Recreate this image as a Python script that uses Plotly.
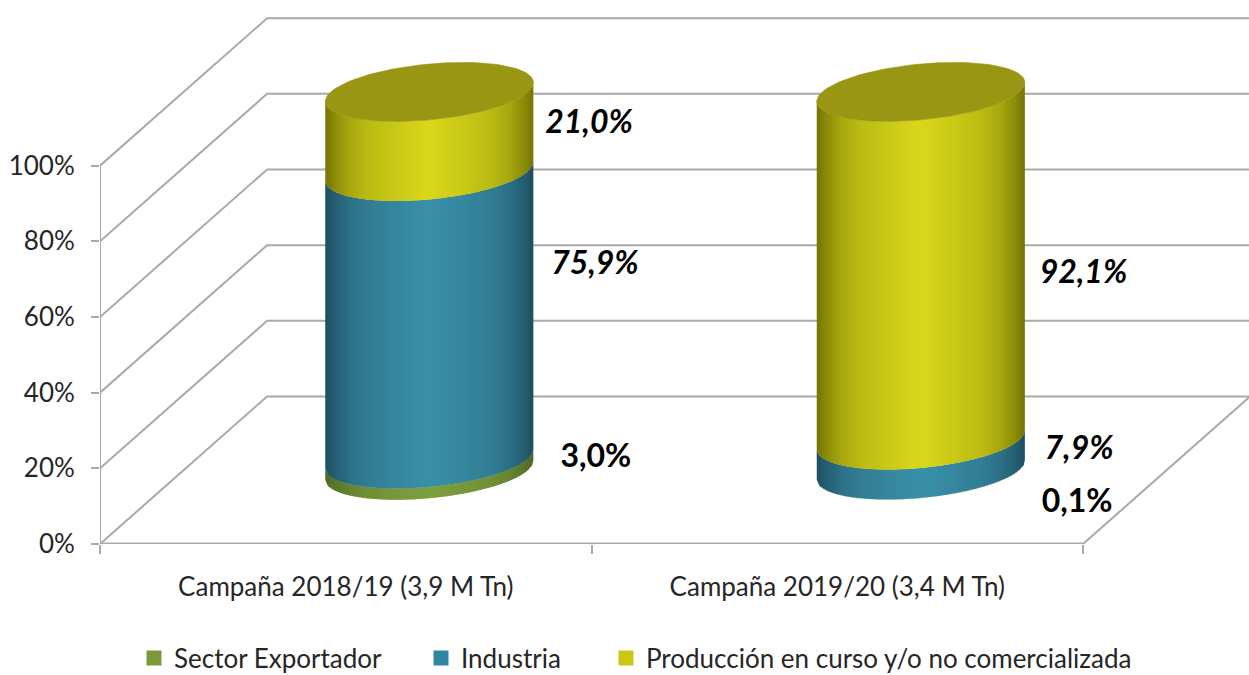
import numpy as np
import plotly.graph_objects as go

# ---- data ----
categories = ["Campaña 2018/19 (3,9 M Tn)", "Campaña 2019/20 (3,4 M Tn)"]
sector_exportador = [3.0, 0.1]
industria = [75.9, 7.9]
produccion = [21.0, 92.1]
series_names = ["Sector Exportador", "Industria", "Producción en curso y/o no comercializada"]
y_ticks = [0, 20, 40, 60, 80, 100]
y_tick_labels = ["0%", "20%", "40%", "60%", "80%", "100%"]

# ---- styles / layout ----
FONT = "Lato"
GRID = "#a9a9a9"
TICK_COL = "#262626"
PEAK = {"g": "#7fa03f", "b": "#3a90a9", "y": "#d8d81b"}
EDGE = {"g": "#4c6620", "b": "#1d4c5e", "y": "#6f6f02"}
LEG = ["#7a9a3a", "#2f87a1", "#c9c914"]
TOP_COL = "#989612"
DEPTH_X, DEPTH_Y = 0.340, 39.0      # oblique wall offset, axis units
RX, REL_DEPTH = 0.2005, 0.2         # cylinder radius, axis units / depth fraction
X_MAX, Y_MAX = 1149 / 491.5, 544 / 3.783
N_STRIPS = 70

series = [sector_exportador, industria, produccion]
keys = ["g", "b", "y"]


def hex2rgb(h):
    return np.array([int(h[i:i + 2], 16) for i in (1, 3, 5)], float)


def shade(key, u):
    f = np.interp(abs(u), [0, .2, .6, .78, .92, 1], [1, .92, .72, .52, .25, .05])
    c = hex2rgb(EDGE[key]) + (hex2rgb(PEAK[key]) - hex2rgb(EDGE[key])) * f
    return "rgb(%d,%d,%d)" % tuple(c)


fig = go.Figure()

# walls and floor
for v in y_ticks:
    fig.add_trace(go.Scatter(x=[0, DEPTH_X, X_MAX], y=[v, v + DEPTH_Y, v + DEPTH_Y], mode="lines",
                             line=dict(color=GRID, width=2), hoverinfo="skip", showlegend=False))
fig.add_trace(go.Scatter(x=[2, 2 + DEPTH_X], y=[0, DEPTH_Y], mode="lines",
                         line=dict(color=GRID, width=2), hoverinfo="skip", showlegend=False))
fig.add_trace(go.Scatter(x=[0, 0], y=[0, 100], mode="lines",
                         line=dict(color=GRID, width=2), hoverinfo="skip", showlegend=False))
fig.add_trace(go.Scatter(x=[0, 2], y=[0, 0], mode="lines",
                         line=dict(color=GRID, width=3), hoverinfo="skip", showlegend=False))

# cylinders (oblique projection of a circle)
ax = DEPTH_X * REL_DEPTH
ay = DEPTH_Y * REL_DEPTH
t0 = np.arctan2(ax, RX)
R = np.hypot(RX, ax)


def arc(xs):
    return ay * np.sin(t0 - np.arccos(np.clip(xs / R, -1, 1)))


for i, cat in enumerate(categories):
    cx = i + 0.5 + DEPTH_X / 2
    total = sum(s[i] for s in series)
    base = DEPTH_Y / 2
    edges = np.linspace(-R, R, N_STRIPS + 1)
    step = edges[1] - edges[0]
    for s, key in zip(series, keys):
        h = s[i] / total * 100
        for a, b in zip(edges[:-1], edges[1:]):
            # each strip runs under the next one, so no seam shows between them
            xs = np.linspace(a, min(b + step * 0.6, R), 3)
            low = base + arc(xs)
            col = shade(key, (a + b) / 2 / R)
            fig.add_trace(go.Scatter(
                x=np.r_[cx + xs, cx + xs[::-1]], y=np.r_[low, (low + h)[::-1]],
                mode="lines", fill="toself", fillcolor=col, line=dict(color=col, width=0),
                hoverinfo="skip", showlegend=False))
        base += h
    tt = np.linspace(0, 2 * np.pi, 120)
    fig.add_trace(go.Scatter(
        x=cx + RX * np.cos(tt) + ax * np.sin(tt), y=base + ay * np.sin(tt),
        mode="lines", fill="toself", fillcolor=TOP_COL, line=dict(color=TOP_COL, width=0.6),
        hoverinfo="skip", showlegend=False))

# data labels
lab_dx = [[.339, .337, .325], [.318, .322, .331]]
lab_dy = [[1.6, 12.9, 1.9], [-8.85, 0.96, -2.3]]
lx, ly, lt = [], [], []
for i in range(2):
    total = sum(s[i] for s in series)
    base = DEPTH_Y / 2
    for j, s in enumerate(series):
        h = s[i] / total * 100
        lx.append(i + 0.5 + DEPTH_X / 2 + lab_dx[i][j])
        ly.append(base + h / 2 + lab_dy[i][j])
        txt = f"{s[i]:.1f}%".replace(".", ",")
        lt.append(f"<b>{txt}</b>" if j == 0 else f"<b><i>{txt}</i></b>")
        base += h
fig.add_trace(go.Scatter(x=lx, y=ly, text=lt, mode="text", textposition="middle center",
                         textfont=dict(family=FONT, size=32, color="black"),
                         hoverinfo="skip", showlegend=False))

# legend, one box per entry so that each sits where it does in the reference
leg_ids = ["legend", "legend2", "legend3"]
for name, col, lid in zip(series_names, LEG, leg_ids):
    fig.add_trace(go.Scatter(x=[None], y=[None], mode="markers", name=name, legend=lid,
                             marker=dict(symbol="square", size=15, color=col)))

leg_px = [134, 421, 606]
legends = {}
for lid, px in zip(leg_ids, leg_px):
    legends[lid] = dict(x=(px - 100) / 1149, xanchor="left", y=-(658 - 544) / 544, yanchor="middle",
                        bgcolor="rgba(0,0,0,0)", font=dict(family=FONT, size=26, color=TICK_COL))

fig.update_layout(
    width=1249, height=675, margin=dict(l=100, r=0, t=0, b=131, autoexpand=False),
    paper_bgcolor="white", plot_bgcolor="white", font=dict(family=FONT, color=TICK_COL),
    **legends,
    xaxis=dict(range=[0, X_MAX], tickvals=[0.5, 1.5], ticktext=categories, ticks="", showgrid=False,
               zeroline=False, showline=False, tickfont=dict(family=FONT, size=26, color=TICK_COL),
               ticklabelstandoff=25,
               minor=dict(tickvals=[0, 1, 2], ticks="outside", ticklen=9, tickwidth=2, tickcolor=GRID, showgrid=False)),
    yaxis=dict(range=[0, Y_MAX], tickvals=y_ticks, ticktext=y_tick_labels, ticks="outside", ticklen=8, tickwidth=2,
               tickcolor=GRID, showgrid=False, zeroline=False, showline=False, ticklabelstandoff=11,
               tickfont=dict(family=FONT, size=26, color=TICK_COL)),
)
fig.write_html("out.html", config={"displayModeBar": False},
               post_script="document.body.style.margin='0';document.documentElement.style.overflow='hidden';")
